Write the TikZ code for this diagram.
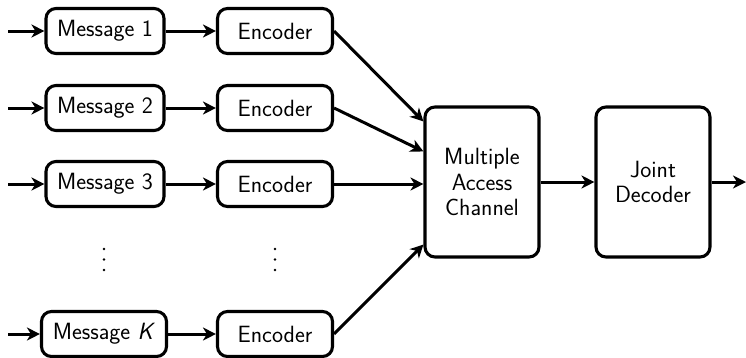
\documentclass[tikz,border=0pt]{standalone}
\usetikzlibrary{arrows.meta}
\begin{document}
\begin{tikzpicture}[x=1pt,y=-1pt,
  box/.style={draw,line width=3.1pt,rounded corners=10pt,inner sep=0pt,align=center,font=\sffamily\fontsize{23.5}{25.5}\selectfont},
  msgbox/.style={box,minimum height=45pt},
  encbox/.style={box,minimum width=115pt,minimum height=45pt},
  bigbox/.style={box,minimum width=114pt,minimum height=150pt},
  conn/.style={line width=3pt,-{Stealth[length=13pt,width=13pt,inset=4pt]}},
  dot/.style={fill,circle,inner sep=0pt,minimum size=2.8pt}]
\useasboundingbox (0,0) rectangle (746,357);
\node[msgbox,minimum width=118pt] (m1) at (105,31) {Message 1};
\node[msgbox,minimum width=118pt] (m2) at (105,108) {Message 2};
\node[msgbox,minimum width=118pt] (m3) at (105,184) {Message 3};
\node[msgbox,minimum width=125pt] (mk) at (104,334) {Message \textit{K}};
\node[encbox] (e1) at (275,31) {Encoder};
\node[encbox] (e2) at (275,108) {Encoder};
\node[encbox] (e3) at (275,184) {Encoder};
\node[encbox] (ek) at (275,334) {Encoder};
\foreach \x/\n in {104/a,275/b}{
  \node[dot] (\n1) at (\x,249) {};
  \node[dot] (\n2) at (\x,259.5) {};
  \node[dot] (\n3) at (\x,270) {};
}
\node[bigbox] (mac) at (482,182) {Multiple\\Access\\Channel};
\node[bigbox] (jd) at (653,182) {Joint\\Decoder};
\coordinate (i1) at (8,31);
\coordinate (i2) at (8,108);
\coordinate (i3) at (8,184);
\coordinate (ik) at (8,334);
\coordinate (out) at (746,182);
\draw[conn] (i1) -- (m1);
\draw[conn] (i2) -- (m2);
\draw[conn] (i3) -- (m3);
\draw[conn] (ik) -- (mk);
\draw[conn] (m1) -- (e1);
\draw[conn] (m2) -- (e2);
\draw[conn] (m3) -- (e3);
\draw[conn] (mk) -- (ek);
\draw[conn] (e1.east) -- ([yshift=-16pt]mac.north west);
\draw[conn] (e2.east) -- ([yshift=-46pt]mac.north west);
\draw[conn] (e3.east) -- (e3.east -| mac.west);
\draw[conn] (ek.east) -- ([yshift=14pt]mac.south west);
\draw[conn] (mac) -- (jd);
\draw[conn] (jd) -- (out);
\end{tikzpicture}
\end{document}
